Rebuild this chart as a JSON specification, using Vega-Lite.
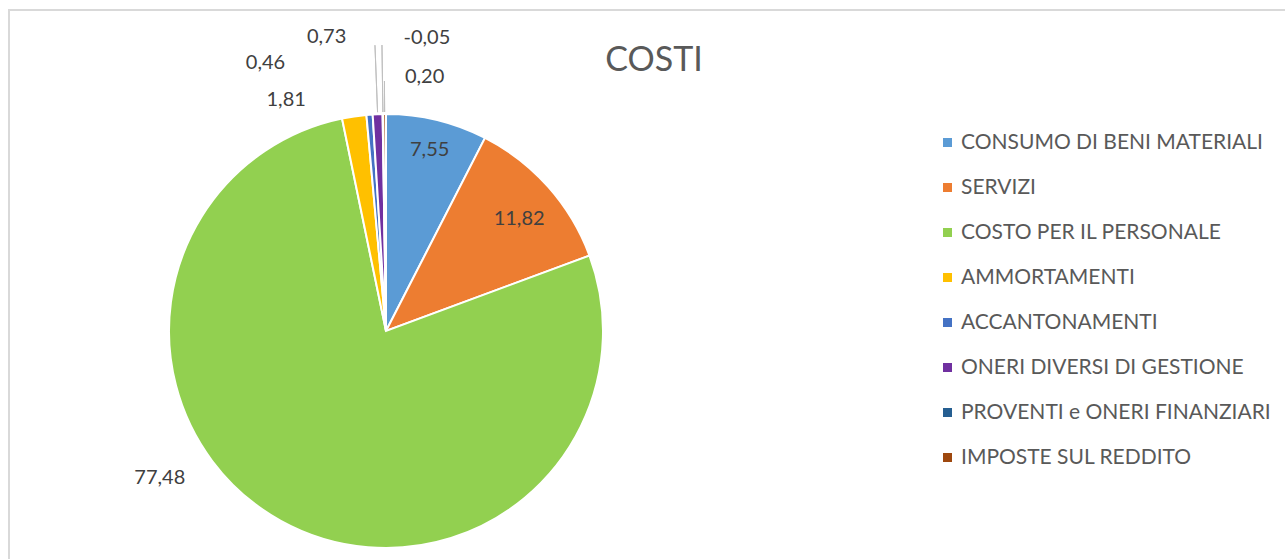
{
  "$schema": "https://vega.github.io/schema/vega-lite/v6.json",
  "width": 1290,
  "height": 560,
  "autosize": "none",
  "padding": {"left": 9, "top": 10, "right": 0, "bottom": 0},
  "background": "white",
  "title": {
    "text": "COSTI",
    "font": "Lato",
    "fontSize": 34,
    "fontWeight": "normal",
    "color": "#595959",
    "anchor": "middle",
    "frame": "group",
    "orient": "top",
    "baseline": "alphabetic",
    "offset": 0,
    "dy": 96
  },
  "data": {
    "values": [
      {"n": 1, "voce": "CONSUMO DI BENI MATERIALI", "valore": 7.55, "ampiezza": 7.55},
      {"n": 2, "voce": "SERVIZI", "valore": 11.82, "ampiezza": 11.82},
      {"n": 3, "voce": "COSTO PER IL PERSONALE", "valore": 77.48, "ampiezza": 77.48},
      {"n": 4, "voce": "AMMORTAMENTI", "valore": 1.81, "ampiezza": 1.81},
      {"n": 5, "voce": "ACCANTONAMENTI", "valore": 0.46, "ampiezza": 0.46},
      {"n": 6, "voce": "ONERI DIVERSI DI GESTIONE", "valore": 0.73, "ampiezza": 0.73},
      {"n": 7, "voce": "PROVENTI e ONERI FINANZIARI", "valore": -0.05, "ampiezza": 0.05},
      {"n": 8, "voce": "IMPOSTE SUL REDDITO", "valore": 0.20, "ampiezza": 0.20}
    ]
  },
  "layer": [
    {
      "data": {"values": [{"cornice": "area del grafico"}]},
      "mark": {"type": "rect", "fill": "white", "stroke": "#d9d9d9", "strokeWidth": 2},
      "encoding": {}
    },
    {
      "encoding": {
        "theta": {"field": "ampiezza", "type": "quantitative", "stack": true},
        "order": {"field": "n", "type": "quantitative"}
      },
      "layer": [
        {
          "mark": {"type": "arc", "radius": 217, "x": 377, "y": 321, "stroke": "white", "strokeWidth": 2},
          "encoding": {
            "color": {
              "field": "voce",
              "type": "nominal",
              "scale": {
                "domain": ["CONSUMO DI BENI MATERIALI", "SERVIZI", "COSTO PER IL PERSONALE", "AMMORTAMENTI", "ACCANTONAMENTI", "ONERI DIVERSI DI GESTIONE", "PROVENTI e ONERI FINANZIARI", "IMPOSTE SUL REDDITO"],
                "range": ["#5B9BD5", "#ED7D31", "#92D050", "#FFC000", "#4472C4", "#7030A0", "#255E91", "#9E480E"]
              },
              "legend": {
                "title": null,
                "orient": "none",
                "legendX": 928,
                "legendY": 122,
                "padding": 0,
                "symbolType": "square",
                "symbolSize": 81,
                "symbolStrokeWidth": 0,
                "labelFont": "Lato",
                "labelFontSize": 21,
                "labelColor": "#595959",
                "labelOffset": 3,
                "labelLimit": 400,
                "rowPadding": 23
              }
            }
          }
        },
        {
          "mark": {"type": "arc", "radius": 286, "radius2": 219, "padAngle": 3.14, "x": 377, "y": 321, "fill": null, "stroke": "#bfbfbf", "strokeWidth": 1},
          "encoding": {"strokeOpacity": {"condition": {"test": "datum.voce === 'ONERI DIVERSI DI GESTIONE' || datum.voce === 'PROVENTI e ONERI FINANZIARI'", "value": 1}, "value": 0}}
        },
        {
          "mark": {"type": "arc", "radius": 250, "radius2": 219, "padAngle": 3.14, "x": 377, "y": 321, "fill": null, "stroke": "#bfbfbf", "strokeWidth": 1},
          "encoding": {"strokeOpacity": {"condition": {"test": "datum.voce === 'IMPOSTE SUL REDDITO'", "value": 1}, "value": 0}}
        },
        {
          "mark": {"type": "text", "radius": 186, "x": 377, "y": 321, "font": "Lato", "fontSize": 20, "color": "#404040"},
          "encoding": {"text": {"condition": {"test": "datum.voce === 'CONSUMO DI BENI MATERIALI'", "field": "valore", "type": "quantitative", "format": ".2f"}, "value": ""}}
        },
        {
          "mark": {"type": "text", "radius": 174, "x": 377, "y": 321, "dx": 3, "dy": 4, "font": "Lato", "fontSize": 20, "color": "#404040"},
          "encoding": {"text": {"condition": {"test": "datum.voce === 'SERVIZI'", "field": "valore", "type": "quantitative", "format": ".2f"}, "value": ""}}
        },
        {
          "mark": {"type": "text", "radius": 217, "x": 377, "y": 321, "dx": -121, "dy": -43, "font": "Lato", "fontSize": 20, "color": "#404040"},
          "encoding": {"text": {"condition": {"test": "datum.voce === 'COSTO PER IL PERSONALE'", "field": "valore", "type": "quantitative", "format": ".2f"}, "value": ""}}
        },
        {
          "mark": {"type": "text", "radius": 217, "x": 377, "y": 321, "dx": -68, "dy": -16, "font": "Lato", "fontSize": 20, "color": "#404040"},
          "encoding": {"text": {"condition": {"test": "datum.voce === 'AMMORTAMENTI'", "field": "valore", "type": "quantitative", "format": ".2f"}, "value": ""}}
        },
        {
          "mark": {"type": "text", "radius": 217, "x": 377, "y": 321, "dx": -104, "dy": -52, "font": "Lato", "fontSize": 20, "color": "#404040"},
          "encoding": {"text": {"condition": {"test": "datum.voce === 'ACCANTONAMENTI'", "field": "valore", "type": "quantitative", "format": ".2f"}, "value": ""}}
        },
        {
          "mark": {"type": "text", "radius": 217, "x": 377, "y": 321, "dx": -51, "dy": -77, "font": "Lato", "fontSize": 20, "color": "#404040"},
          "encoding": {"text": {"condition": {"test": "datum.voce === 'ONERI DIVERSI DI GESTIONE'", "field": "valore", "type": "quantitative", "format": ".2f"}, "value": ""}}
        },
        {
          "mark": {"type": "text", "radius": 217, "x": 377, "y": 321, "dx": 44, "dy": -76, "font": "Lato", "fontSize": 20, "color": "#404040"},
          "encoding": {"text": {"condition": {"test": "datum.voce === 'PROVENTI e ONERI FINANZIARI'", "field": "valore", "type": "quantitative", "format": ".2f"}, "value": ""}}
        },
        {
          "mark": {"type": "text", "radius": 217, "x": 377, "y": 321, "dx": 40, "dy": -37, "font": "Lato", "fontSize": 20, "color": "#404040"},
          "encoding": {"text": {"condition": {"test": "datum.voce === 'IMPOSTE SUL REDDITO'", "field": "valore", "type": "quantitative", "format": ".2f"}, "value": ""}}
        }
      ]
    }
  ],
  "config": {
    "view": {"stroke": null},
    "locale": {"number": {"decimal": ",", "thousands": ".", "grouping": [3], "currency": ["€", ""], "minus": "-"}}
  }
}
